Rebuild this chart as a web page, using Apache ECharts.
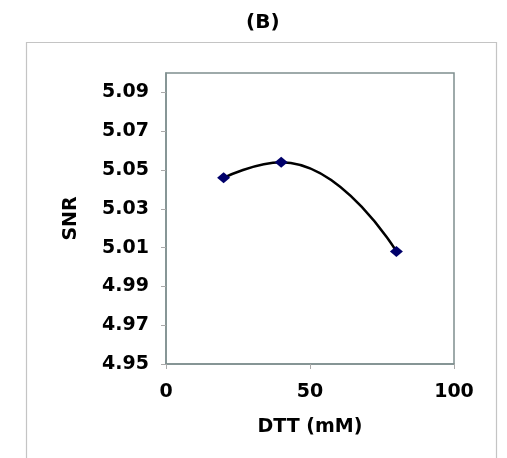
<!DOCTYPE html>
<html>
<head>
<meta charset="utf-8">
<script src="https://cdn.jsdelivr.net/npm/echarts@6/dist/echarts.min.js"></script>
<style>
  html, body { margin: 0; padding: 0; background: #fff; }
  #chart { width: 507px; height: 458px; }
</style>
</head>
<body>
<div id="chart"></div>
<script>
// DTT concentration (mM) and measured SNR
const dtt = [20, 40, 80];
const snr = [5.046, 5.054, 5.008];

const xTicks = [0, 50, 100];
const yTicks = [4.95, 4.97, 4.99, 5.01, 5.03, 5.05, 5.07, 5.09];

const font = 'DejaVu Sans';
const txt = { fontFamily: font, fontWeight: 'bold', fontSize: 19, color: '#000' };
const chart = echarts.init(document.getElementById('chart'));

chart.setOption({
    animation: false,
    backgroundColor: '#fff',
    title: {
        text: '(B)',
        left: 241,
        top: 8,
        textStyle: Object.assign({}, txt, { fontSize: 20 })
    },
    graphic: [{
        type: 'rect',
        shape: { x: 26.5, y: 42.5, width: 470, height: 440 },
        style: { fill: 'none', stroke: '#c4c4c4', lineWidth: 1.2 },
        silent: true
    }],
    grid: {
        left: 166,
        right: 53,
        top: 73,
        bottom: 94,
        show: true,
        borderColor: '#7f8f8f',
        borderWidth: 1.5
    },
    xAxis: {
        type: 'value',
        min: xTicks[0],
        max: xTicks[xTicks.length - 1],
        interval: 50,
        name: 'DTT (mM)',
        nameLocation: 'middle',
        nameGap: 54,
        nameTextStyle: txt,
        axisLine: { lineStyle: { color: '#7f8f8f', width: 1.5 } },
        axisTick: { show: true, length: 5, lineStyle: { color: '#aaa' } },
        axisLabel: Object.assign({ margin: 19 }, txt),
        splitLine: { show: false }
    },
    yAxis: {
        type: 'value',
        min: yTicks[0],
        max: 5.10,
        interval: 0.02,
        name: 'SNR',
        nameLocation: 'middle',
        nameGap: 85,
        nameTextStyle: txt,
        axisLine: { lineStyle: { color: '#7f8f8f', width: 1.5 } },
        axisTick: { show: true, length: 5, lineStyle: { color: '#aaa' } },
        axisLabel: Object.assign({
            margin: 17,
            showMaxLabel: false,
            formatter: v => v > 5.095 ? '' : v.toFixed(2)
        }, txt),
        splitLine: { show: false }
    },
    series: [{
        type: 'line',
        data: dtt.map((x, i) => [x, snr[i]]),
        smooth: true,
        symbol: 'diamond',
        symbolSize: [13, 11],
        itemStyle: { color: '#00006a' },
        lineStyle: { color: '#000', width: 2.5 }
    }]
});
</script>
</body>
</html>
